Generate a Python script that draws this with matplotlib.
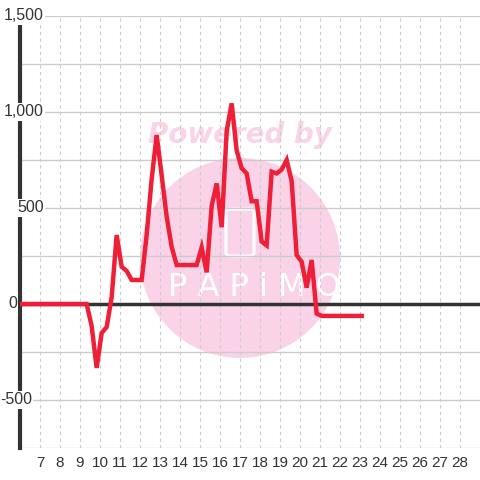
import matplotlib
matplotlib.use("Agg")
import matplotlib.pyplot as plt
import matplotlib.transforms as mtransforms
from matplotlib.patches import Circle, FancyBboxPatch
import numpy as np

plt.rcParams['font.family'] = ['Liberation Sans', 'DejaVu Sans']

# time of each reading (hours, every 15 min)
hours = [5.833, 6.083, 6.333, 6.583, 6.833, 7.083, 7.333, 7.583, 7.833,
         8.083, 8.333, 8.583, 8.833, 9.083, 9.333, 9.583, 9.833, 10.083,
         10.333, 10.583, 10.833, 11.083, 11.333, 11.583, 11.833, 12.083,
         12.333, 12.583, 12.833, 13.083, 13.333, 13.583, 13.833, 14.083,
         14.333, 14.583, 14.833, 15.083, 15.333, 15.583, 15.833, 16.083,
         16.333, 16.583, 16.833, 17.083, 17.333, 17.583, 17.833, 18.083,
         18.333, 18.583, 18.833, 19.083, 19.333, 19.583, 19.833, 20.083,
         20.333, 20.583, 20.833, 21.083, 21.333, 21.583, 21.833, 22.083,
         22.333, 22.583, 22.833, 23.083]
values = [0, 0, 0, 0, 0, 0, 0, 0, 0,
          0, 0, 0, 0, 0, 0, -115, -333, -151,
          -120, 35, 359, 194, 172, 125, 125, 125,
          360, 650, 880, 670, 455, 298, 203, 203,
          203, 203, 203, 295, 165, 510, 628, 400,
          900, 1045, 800, 707, 680, 535, 535, 325,
          305, 689, 680, 700, 750, 640, 255, 220,
          85, 229, -50, -62, -62, -62, -62, -62,
          -62, -62, -62, -62]

xticks = list(range(7, 29))
ylabels = [1500, 1000, 500, 0, -500]

red = '#ee1f36'
dark = '#333333'
grid_c = '#cccccc'
pink = '#fad3e8'

fig = plt.figure(figsize=(4.8, 4.8), dpi=100)
fig.patch.set_facecolor('white')
ax = fig.add_axes([20/480, 32/480, 460/480, 432/480])
ax.set_axisbelow(True)

# watermark (under the grid)
ft = fig.transFigure
ax.add_patch(Circle((0.5, 1 - 258/480), 100/480, transform=ft, clip_on=False,
                    facecolor=pink, edgecolor='none', zorder=0.1))
ax.add_patch(FancyBboxPatch((226/480, 1 - 256/480), 28/480, 47/480,
                            boxstyle='round,pad=0,rounding_size=0.008',
                            transform=ft, facecolor='none', clip_on=False,
                            edgecolor='white', lw=2.2, zorder=0.2))
ax.text(254/480, 1 - 288/480, 'P A P i M O', color='white', fontsize=23,
        ha='center', va='center', family='DejaVu Sans', transform=ft, zorder=0.2)
ax.text(0.5, 1 - 135/480, 'Powered by', color=pink, fontsize=20,
        fontweight='bold', fontstyle='italic', family='DejaVu Sans',
        ha='center', va='center', transform=ft, zorder=0.2)

ax.set_xlim(6, 29)
ax.set_ylim(-750, 1500)
ax.set_yticks(np.arange(-750, 1501, 250))
ax.set_yticklabels([])
ax.set_xticks(xticks)
ax.set_xticklabels([str(t) for t in xticks], fontsize=11, color=dark)
ax.tick_params(length=0, pad=6)
ax.tick_params(axis='y', length=0, pad=0)
ax.yaxis.grid(True, color=grid_c, lw=1)
ax.xaxis.grid(True, color=grid_c, lw=0.8, linestyle=(0, (3, 3)))

for s in ['top', 'right', 'bottom']:
    ax.spines[s].set_visible(False)
ax.spines['left'].set_color(dark)
ax.spines['left'].set_linewidth(3)
ax.spines['left'].set_zorder(2)

ax.axhline(0, color=dark, lw=2.5, zorder=2)
ax.plot(hours, values, color=red, lw=3.2, zorder=4, solid_joinstyle='miter')

trans = mtransforms.blended_transform_factory(ft, ax.transData)
label_right = {1500: 44, 1000: 44, 500: 44, 0: 17, -500: 32}
for v in ylabels:
    ax.text(label_right[v]/480, v, f'{v:,}', transform=trans, ha='right', va='center',
            fontsize=11.5, color=dark, zorder=5,
            bbox=dict(facecolor='white', edgecolor='none', pad=1.0))

fig.savefig('out.png', dpi=100)
